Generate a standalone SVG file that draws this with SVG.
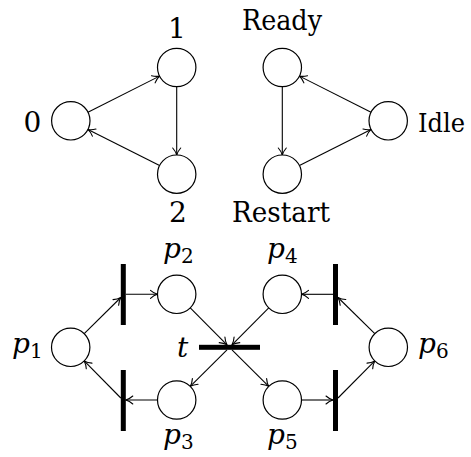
<svg xmlns="http://www.w3.org/2000/svg" width="471" height="457" viewBox="0 0 471 457">
<style>
.node{fill:#fff;stroke:#000;stroke-width:1.2}
.edge{fill:none;stroke:#000;stroke-width:1.1;marker-end:url(#tip)}
.bar{fill:#000}
</style>
<defs>
<marker id="tip" markerUnits="userSpaceOnUse" markerWidth="20" markerHeight="20" refX="0" refY="0" orient="auto" viewBox="-10 -10 20 20" overflow="visible">
<path d="M-7,-4 C-4.5,-1.8 -2,-0.6 0,0 C-2,0.6 -4.5,1.8 -7,4" fill="none" stroke="#000" stroke-width="1.1" stroke-linecap="round"/>
</marker>
</defs>
<g id="connectors">
<line class="edge" x1="87.95" y1="112.17" x2="159.55" y2="76.13"/>
<line class="edge" x1="176.7" y1="86.7" x2="176.7" y2="155"/>
<line class="edge" x1="159.55" y1="165.57" x2="87.95" y2="129.43"/>
<line class="edge" x1="282.3" y1="86.7" x2="282.3" y2="155"/>
<line class="edge" x1="299.45" y1="165.57" x2="371.05" y2="129.43"/>
<line class="edge" x1="371.05" y1="112.17" x2="299.45" y2="76.13"/>
<line class="edge" x1="84.22" y1="333.67" x2="120.8" y2="297.5"/>
<line class="edge" x1="125.8" y1="294.3" x2="157.5" y2="294.3"/>
<line class="edge" x1="190.26" y1="307.91" x2="227.0" y2="344.8"/>
<line class="edge" x1="268.74" y1="307.91" x2="232.0" y2="344.8"/>
<line class="edge" x1="227.0" y1="349.8" x2="190.26" y2="386.39"/>
<line class="edge" x1="232.0" y1="349.8" x2="268.74" y2="386.39"/>
<line class="edge" x1="157.5" y1="400" x2="125.8" y2="400"/>
<line class="edge" x1="120.8" y1="398.0" x2="84.2" y2="360.95"/>
<line class="edge" x1="374.79" y1="333.66" x2="338.0" y2="297.5"/>
<line class="edge" x1="333.0" y1="294.3" x2="301.5" y2="294.3"/>
<line class="edge" x1="301.5" y1="400" x2="333.0" y2="400"/>
<line class="edge" x1="338.0" y1="398.0" x2="374.8" y2="360.95"/>
</g>
<g font-family="DejaVu Serif, Liberation Serif, serif" font-size="28" fill="#000">
<g id="n0"><circle class="node" cx="70.8" cy="120.8" r="19.2"/><text x="32.5" y="132" text-anchor="middle">0</text></g>
<g id="n1"><circle class="node" cx="176.7" cy="67.5" r="19.2"/><text x="177" y="38" text-anchor="middle">1</text></g>
<g id="n2"><circle class="node" cx="176.7" cy="174.2" r="19.2"/><text x="178" y="222" text-anchor="middle">2</text></g>
<g id="ready"><circle class="node" cx="282.3" cy="67.5" r="19.2"/><text x="242" y="30" textLength="80" lengthAdjust="spacingAndGlyphs">Ready</text></g>
<g id="restart"><circle class="node" cx="282.3" cy="174.2" r="19.2"/><text x="232" y="222" textLength="98" lengthAdjust="spacingAndGlyphs">Restart</text></g>
<g id="idle"><circle class="node" cx="388.2" cy="120.8" r="19.2"/><text x="418" y="132" font-size="25.5" textLength="47" lengthAdjust="spacingAndGlyphs">Idle</text></g>
<g id="p1"><circle class="node" cx="70.7" cy="347.3" r="19.2"/><text x="12" y="353" font-style="italic">p<tspan font-style="normal" font-size="20" dy="4.5">1</tspan></text></g>
<g id="p2"><circle class="node" cx="176.7" cy="294.3" r="19.2"/><text x="163" y="258" font-style="italic">p<tspan font-style="normal" font-size="20" dy="4.5">2</tspan></text></g>
<g id="p3"><circle class="node" cx="176.7" cy="400" r="19.2"/><text x="163" y="444" font-style="italic">p<tspan font-style="normal" font-size="20" dy="4.5">3</tspan></text></g>
<g id="p4"><circle class="node" cx="282.3" cy="294.3" r="19.2"/><text x="267" y="258" font-style="italic">p<tspan font-style="normal" font-size="20" dy="4.5">4</tspan></text></g>
<g id="p5"><circle class="node" cx="282.3" cy="400" r="19.2"/><text x="267" y="444" font-style="italic">p<tspan font-style="normal" font-size="20" dy="4.5">5</tspan></text></g>
<g id="p6"><circle class="node" cx="388.3" cy="347.3" r="19.2"/><text x="418" y="353" font-style="italic">p<tspan font-style="normal" font-size="20" dy="4.5">6</tspan></text></g>
<g id="tr1"><rect class="bar" x="120.8" y="264" width="5" height="61"/></g>
<g id="tr2"><rect class="bar" x="120.8" y="370" width="5" height="61"/></g>
<g id="tr3"><rect class="bar" x="333" y="264" width="5" height="61"/></g>
<g id="tr4"><rect class="bar" x="333" y="370" width="5" height="61"/></g>
<g id="t"><rect class="bar" x="199" y="344.8" width="61" height="5"/><text x="177" y="357" font-style="italic">t</text></g>
</g>
</svg>
